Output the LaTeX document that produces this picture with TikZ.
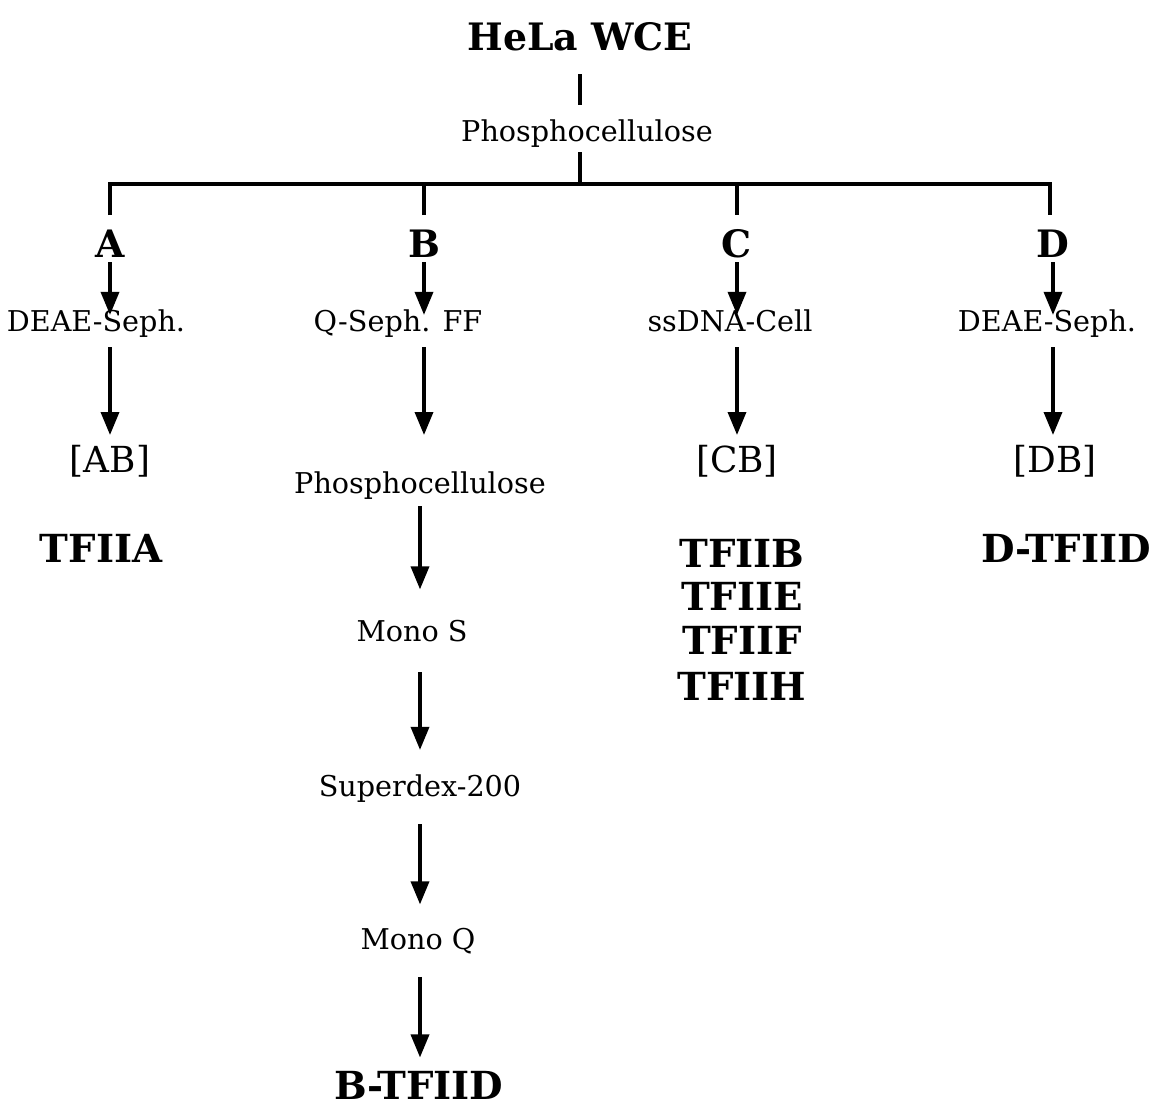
\documentclass[tikz,border=0pt]{standalone}
\usepackage{fontspec}
\setmainfont{DejaVu Serif}
\usetikzlibrary{arrows.meta,positioning,calc}

\begin{document}
\begin{tikzpicture}[x=0.2mm,y=-0.2mm,>={Triangle[width=3.6mm,length=4.6mm]}]
  \tikzstyle{line}=[line width=0.7mm]
  \tikzstyle{arr}=[->,line width=0.7mm]
  \tikzstyle{lab}=[inner sep=0pt,anchor=base,font=\fontsize{16.3}{18}\selectfont]
  \tikzstyle{col}=[inner sep=0pt,anchor=base,font=\fontsize{21.5}{23}\selectfont\bfseries]
  \tikzstyle{frac}=[inner sep=0pt,anchor=base,font=\fontsize{20.4}{22}\selectfont]
  \tikzstyle{res}=[inner sep=0pt,anchor=base,font=\fontsize{22}{24}\selectfont\bfseries]
  \useasboundingbox (0,0) rectangle (1163,1111);
  % top
  \node[col] (hela) at (580,50) {HeLa WCE};
  \node[lab] (ph) at (587,141) {Phosphocellulose};
  \coordinate (hub) at (580,184);
  % columns
  \node[col] (A) at (110,257) {A};
  \node[col] (B) at (424,257) {B};
  \node[col] (C) at (737,257) {C};
  \node[col] (D) at (1053,257) {D};
  \node[lab] (dA) at (96,331) {DEAE-Seph.};
  \node[lab] (dB) at (398,331) {Q-Seph. FF};
  \node[lab] (dC) at (730,331) {ssDNA-Cell};
  \node[lab] (dD) at (1047,331) {DEAE-Seph.};
  \node[frac] (rA) at (110,472) {[AB]};
  \node[frac] (rC) at (737,472) {[CB]};
  \node[frac] (rD) at (1055,472) {[DB]};
  \node[res] (tA) at (101,562) {TFIIA};
  \node[res] (tD) at (1066,562) {D-TFIID};
  \node[res] (tB) at (742,567) {TFIIB};
  \node[res] (tE) at (742,610) {TFIIE};
  \node[res] (tF) at (742,654) {TFIIF};
  \node[res] (tH) at (742,700) {TFIIH};
  % B-column
  \node[lab] (p1) at (420,493) {Phosphocellulose};
  \node[lab] (mS) at (412,641) {Mono S};
  \node[lab] (sd) at (420,796) {Superdex-200};
  \node[lab] (mQ) at (418,949) {Mono Q};
  \node[res] (bT) at (419,1099) {B-TFIID};
  % tree
  \draw[line,shorten <=4.8mm,shorten >=2.8mm] (hela.base) -- (hela.base |- ph.north);
  \draw[line,shorten <=1mm] (ph.south -| hub) -- (hub);
  \draw[line,shorten <=2.8mm,shorten >=2.8mm] (A.north) -- (A |- hub) -- (1050,184) -- (1050,229);
  \foreach \n in {B,C}
    \draw[line,shorten <=2.8mm] (\n.north) -- (\n |- hub);
  % arrows
  \foreach \n/\m in {A/dA,B/dB,C/dC,D/dD}{
    \draw[arr,shorten <=1mm,shorten >=-1.2mm] (\n.base) -- (\n.base |- \m.north);
    \draw[arr] ($(\n.base |- \m.base)+(0,16)$) -- ++(0,88);
  }
  \draw[arr,shorten <=1.4mm,shorten >=6mm] (p1.south) -- (p1.south |- mS.north);
  \draw[arr,shorten <=6.2mm,shorten >=4.8mm] (p1.base |- mS.base) -- (p1.base |- sd.north);
  \draw[arr,shorten <=4.4mm,shorten >=4.6mm] (p1.base |- sd.south) -- (p1.base |- mQ.north);
  \draw[arr,shorten <=4.6mm,shorten >=2.6mm] (p1.base |- mQ.south) -- (p1.base |- bT.north);
\end{tikzpicture}
\end{document}
